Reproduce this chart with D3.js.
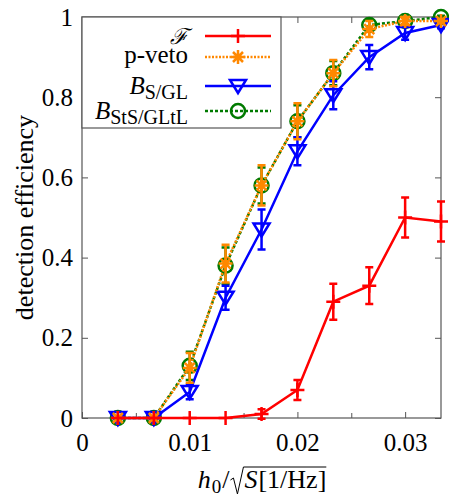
<!DOCTYPE html>
<html>
<head>
<meta charset="utf-8">
<script src="https://cdn.jsdelivr.net/npm/d3@7"></script>
<style>
  body { margin: 0; background: #fff; }
  svg { display: block; }
  text { font-family: "Liberation Serif", "Times New Roman", "DejaVu Serif", serif; fill: #000; }
</style>
</head>
<body>
<svg id="chart" width="449" height="496"></svg>
<script>
// signal amplitude h0/sqrt(S)
const amplitudes = [0.00333, 0.00667, 0.01, 0.01333, 0.01667, 0.02, 0.02333, 0.02667, 0.03, 0.03333];

// detection efficiency per statistic, with error bars
const fStat = [0, 0, 0, 0, 0.01, 0.07, 0.29, 0.33, 0.50, 0.49];
const fStatErr = [0, 0, 0, 0, 0.012, 0.025, 0.045, 0.046, 0.05, 0.05];
const pVeto = [0, 0, 0.125, 0.385, 0.58, 0.74, 0.86, 0.97, 0.99, 0.99];
const pVetoErr = [0, 0, 0.037, 0.047, 0.05, 0.045, 0.033, 0.02, 0.01, 0.005];
const bSGL = [0, 0, 0.065, 0.30, 0.47, 0.665, 0.805, 0.90, 0.96, 0.98];
const bSGLErr = [0, 0, 0.018, 0.03, 0.05, 0.035, 0.035, 0.03, 0.017, 0.008];
const bStSGLtL = [0, 0, 0.13, 0.38, 0.58, 0.74, 0.86, 0.98, 0.99, 1.0];
const bStSGLtLErr = [0, 0, 0.035, 0.045, 0.045, 0.04, 0.03, 0.015, 0.008, 0.003];

const xTicks = [0, 0.01, 0.02, 0.03];
const xMinorTicks = [0.005, 0.015, 0.025];
const yTicks = [0, 0.2, 0.4, 0.6, 0.8, 1];

const svg = d3.select('#chart');
const plotLeft = 82, plotRight = 441, plotTop = 17, plotBottom = 418;
const frameColor = '#555';
const serif = '"Liberation Serif", "Times New Roman", "DejaVu Serif", serif';

const x = d3.scaleLinear().domain([0, 0.03333]).range([plotLeft, plotRight]);
const y = d3.scaleLinear().domain([0, 1]).range([plotBottom, plotTop]);

const markers = {
  plus: 'M-7,0H7M0,-7V7',
  star: 'M-7,0H7M0,-7V7M-5,-5L5,5M-5,5L5,-5',
  tri: 'M-8,-6L8,-6L0,7Z',
};

const series = [
  { key: 'bst', values: bStSGLtL, errors: bStSGLtLErr, color: '#007a00', dash: '3,2', marker: 'circle' },
  { key: 'bs', values: bSGL, errors: bSGLErr, color: '#0000ff', dash: null, marker: 'tri' },
  { key: 'pv', values: pVeto, errors: pVetoErr, color: '#ff8800', dash: '2,1.5', marker: 'star' },
  { key: 'f', values: fStat, errors: fStatErr, color: '#ff0000', dash: null, marker: 'plus' },
];

function fmt(d) {
  return d === 0 || d === 1 ? String(d) : String(+d.toFixed(2));
}

function styleAxis(g) {
  g.attr('font-family', null);
  g.select('.domain').remove();
  g.selectAll('.tick line').attr('stroke', frameColor).attr('stroke-width', 1);
  g.selectAll('.tick text').attr('font-size', 25).style('font-family', serif);
}

// bottom axis + mirrored top
svg.append('g')
  .attr('transform', `translate(0,${plotBottom})`)
  .call(d3.axisBottom(x).tickValues(xTicks).tickFormat(fmt).tickSizeInner(-6).tickSizeOuter(0).tickPadding(15))
  .call(styleAxis);
svg.append('g')
  .attr('transform', `translate(0,${plotBottom})`)
  .call(d3.axisBottom(x).tickValues(xMinorTicks).tickFormat('').tickSizeInner(-5).tickSizeOuter(0))
  .call(styleAxis);
svg.append('g')
  .attr('transform', `translate(0,${plotTop})`)
  .call(d3.axisTop(x).tickValues(xTicks.concat(xMinorTicks)).tickFormat('').tickSizeInner(-6).tickSizeOuter(0))
  .call(styleAxis);

// left axis + mirrored right
svg.append('g')
  .attr('transform', `translate(${plotLeft},0)`)
  .call(d3.axisLeft(y).tickValues(yTicks).tickFormat(fmt).tickSizeInner(-6).tickSizeOuter(0).tickPadding(9))
  .call(styleAxis);
svg.append('g')
  .attr('transform', `translate(${plotRight},0)`)
  .call(d3.axisRight(y).tickValues(yTicks).tickFormat('').tickSizeInner(-6).tickSizeOuter(0))
  .call(styleAxis);

svg.append('rect')
  .attr('x', plotLeft).attr('y', plotTop)
  .attr('width', plotRight - plotLeft).attr('height', plotBottom - plotTop)
  .attr('fill', 'none').attr('stroke', frameColor).attr('stroke-width', 1.2);

// legend box (drawn before the data so markers at the top stay visible)
const legendBox = { x: plotLeft, y: plotTop, w: 199, h: 111 };
svg.append('rect')
  .attr('x', legendBox.x).attr('y', legendBox.y)
  .attr('width', legendBox.w).attr('height', legendBox.h)
  .attr('fill', '#fff').attr('stroke', frameColor).attr('stroke-width', 1.2);

function drawMarker(g, kind, cx, cy, color) {
  if (kind === 'circle') {
    g.append('circle').attr('cx', cx).attr('cy', cy).attr('r', 7)
      .attr('fill', 'none').attr('stroke', color).attr('stroke-width', 2.5);
  } else {
    g.append('path').attr('d', markers[kind])
      .attr('transform', `translate(${cx},${cy})`)
      .attr('fill', 'none').attr('stroke', color).attr('stroke-width', 2.5);
  }
}

const line = d3.line()
  .x((d, i) => x(amplitudes[i]))
  .y(d => y(d));

series.forEach(s => {
  const g = svg.append('g').attr('class', s.key);
  g.append('path')
    .attr('d', line(s.values))
    .attr('fill', 'none')
    .attr('stroke', s.color)
    .attr('stroke-width', 2.5)
    .attr('stroke-dasharray', s.dash);

  s.values.forEach((v, i) => {
    const e = s.errors[i];
    const cx = x(amplitudes[i]);
    if (e > 0) {
      const y0 = y(v - e), y1 = y(v + e);
      g.append('path')
        .attr('d', `M${cx},${y0}V${y1}M${cx - 4},${y0}H${cx + 4}M${cx - 4},${y1}H${cx + 4}`)
        .attr('fill', 'none').attr('stroke', s.color).attr('stroke-width', 2.5);
    }
    drawMarker(g, s.marker, cx, y(v), s.color);
  });
});

// legend entries
const legendRows = [
  { key: 'f', cy: 36, base: 44 },
  { key: 'pv', cy: 57, base: 63 },
  { key: 'bs', cy: 86, base: 94 },
  { key: 'bst', cy: 111, base: 119 },
];
const legendText = legendRows.map(r => svg.append('text')
  .attr('x', 188).attr('y', r.base)
  .attr('text-anchor', 'end').attr('font-size', 25));

legendText[0].append('tspan').style('font-family', '"DejaVu Serif", serif').attr('font-style', 'italic').attr('font-size', 22).text('ℱ');
legendText[1].text('p-veto');
legendText[2].append('tspan').attr('font-style', 'italic').text('B');
legendText[2].append('tspan').attr('font-size', 20).attr('dy', 5).text('S/GL');
legendText[3].append('tspan').attr('font-style', 'italic').text('B');
legendText[3].append('tspan').attr('font-size', 20).attr('dy', 5).text('StS/GLtL');

legendRows.forEach(r => {
  const s = series.find(d => d.key === r.key);
  const g = svg.append('g');
  g.append('line')
    .attr('x1', 205).attr('x2', 271).attr('y1', r.cy).attr('y2', r.cy)
    .attr('stroke', s.color).attr('stroke-width', 2.5)
    .attr('stroke-dasharray', s.dash);
  drawMarker(g, s.marker, 238, r.cy, s.color);
});

// y axis title
svg.append('text')
  .attr('transform', `translate(33,${(plotTop + plotBottom) / 2}) rotate(-90)`)
  .attr('text-anchor', 'middle')
  .attr('font-size', 26)
  .text('detection efficiency');

// x axis title: h0 / sqrt(S[1/Hz])
const xt = svg.append('g');
const base = 488;
let cursor = 0;
function piece(str, opts) {
  const t = xt.append('text')
    .attr('x', cursor).attr('y', base + (opts.dy || 0))
    .attr('font-size', opts.size || 26)
    .attr('font-style', opts.italic ? 'italic' : 'normal')
    .text(str);
  cursor += t.node().getComputedTextLength() + (opts.gap || 0);
}
piece('h', { italic: true, gap: 1 });
piece('0', { size: 19, dy: 5, gap: 1 });
piece('/', {});
const radStart = cursor;
cursor += 15;
piece('S', { italic: true, gap: 1 });
piece('[1/Hz]', {});
const barEnd = cursor;
xt.append('path')
  .attr('d', `M${radStart + 1},${base - 8}L${radStart + 4},${base - 10}L${radStart + 8},${base + 6}L${radStart + 14},${base - 21}H${barEnd}`)
  .attr('fill', 'none').attr('stroke', '#000').attr('stroke-width', 1);
xt.attr('transform', `translate(${262 - barEnd / 2},0)`);
</script>
</body>
</html>
